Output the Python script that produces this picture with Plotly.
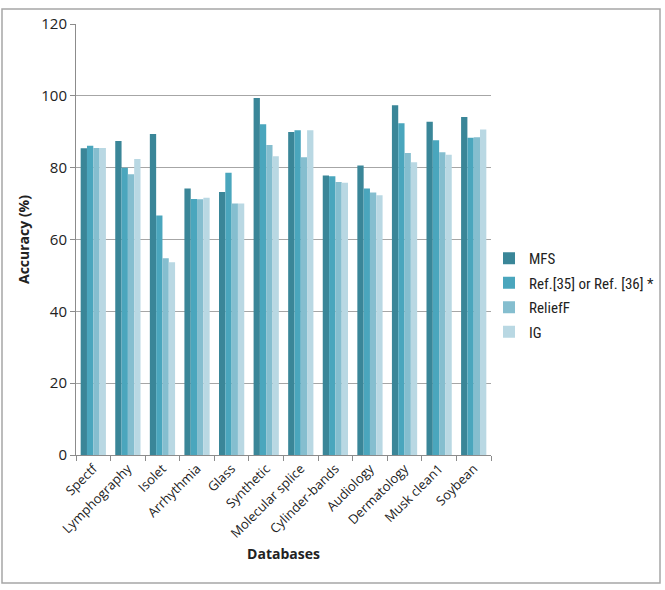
import plotly.graph_objects as go

databases = ["Spectf", "Lymphography", "Isolet", "Arrhythmia", "Glass", "Synthetic",
             "Molecular splice", "Cylinder-bands", "Audiology", "Dermatology",
             "Musk clean1", "Soybean"]
mfs =     [85.4, 87.4, 89.4, 74.2, 73.2, 99.4, 89.9, 77.8, 80.6, 97.4, 92.8, 94.1]
ref =     [86.1, 80.0, 66.7, 71.3, 78.6, 92.1, 90.4, 77.6, 74.2, 92.4, 87.6, 88.3]
relieff = [85.5, 78.2, 54.8, 71.2, 70.0, 86.3, 82.9, 76.0, 73.1, 84.1, 84.3, 88.5]
ig =      [85.5, 82.4, 53.7, 71.6, 70.0, 83.2, 90.4, 75.8, 72.3, 81.5, 83.6, 90.6]

series = [
    ("MFS", mfs, "#3A8698"),
    ("Ref.[35] or Ref. [36] *", ref, "#4AA6BD"),
    ("ReliefF", relieff, "#85BECF"),
    ("IG", ig, "#B9D8E3"),
]

fig = go.Figure()
for i, (name, vals, color) in enumerate(series):
    fig.add_trace(go.Bar(x=databases, y=vals, name=name, marker_color=color,
                         marker_line_width=0, legendgroup="g%d" % i))

L, R, T, B = 76, 491, 24, 455
W, H = 665, 590
pw, ph = R - L, B - T

def px_x(p):
    return (p - L) / pw

def px_y(p):
    return (B - p) / ph

fig.update_layout(
    width=W, height=H,
    margin=dict(l=L, r=W - R, t=T, b=H - B, pad=0, autoexpand=False),
    paper_bgcolor="white", plot_bgcolor="white",
    barmode="group", bargap=0.27, bargroupgap=0,
    font=dict(family="Open Sans", size=14, color="#222222"),
    showlegend=True,
    legend=dict(x=px_x(489), y=px_y(295), xanchor="left", yanchor="middle",
                font=dict(family="Liberation Sans Narrow, Roboto Condensed, Roboto",
                          size=15, color="#222222"),
                tracegroupgap=2, itemwidth=30, bgcolor="rgba(0,0,0,0)"),
    shapes=[dict(type="rect", xref="paper", yref="paper",
                 x0=px_x(2), x1=px_x(660), y0=px_y(583), y1=px_y(9),
                 line=dict(color="#A6A6A6", width=1.5), layer="below")],
)
fig.update_xaxes(
    showline=True, linecolor="#8C8C8C", linewidth=1,
    ticks="outside", tickson="boundaries", ticklen=5, tickcolor="#8C8C8C",
    tickangle=-45, tickfont=dict(size=13),
    title=dict(text="<b>Databases</b>", font=dict(size=14), standoff=8),
    showgrid=False, automargin=False,
)
fig.update_yaxes(
    range=[0, 120], dtick=20, showline=True, linecolor="#8C8C8C", linewidth=1,
    ticks="outside", ticklen=5, tickcolor="#8C8C8C",
    tickfont=dict(size=15),
    showgrid=True, gridcolor="#A6A6A6", gridwidth=1,
    title=dict(text="<b>Accuracy (%)</b>", font=dict(size=14), standoff=8),
    zeroline=False, automargin=False,
)

fig.write_html("out.html")
